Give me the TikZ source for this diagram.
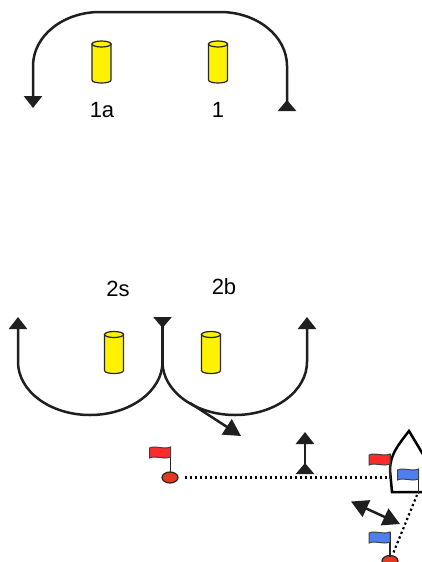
\documentclass[tikz,border=0pt]{standalone}
\usepackage{fontspec}
\setmainfont{Liberation Sans}
\usetikzlibrary{arrows.meta, shapes.geometric}

\definecolor{flagred}{HTML}{FF2A2A}
\definecolor{flagblue}{HTML}{4F7FEF}
\definecolor{buoyred}{HTML}{E03A20}

\begin{document}
\begin{tikzpicture}
        [x=1pt, y=-1pt,
        headtip/.tip={Triangle[length=12pt, width=18pt]},
        tailtip/.tip={Triangle[length=11pt, width=18pt, reversed]},
        crosstip/.tip={Triangle[length=17pt, width=18pt]},
        course/.style={draw=black!88, line width=2.5pt},
        gate/.style={draw=black, line width=2.2pt, dash pattern=on 2.2pt off 2.8pt},
        buoy/.style={ellipse, draw=black!85, fill=buoyred, line width=1.2pt,
           minimum width=16pt, minimum height=11pt, inner sep=0pt},
        tag/.style={font=\fontsize{22}{24}\selectfont, inner sep=0pt},
        can/.pic={
           \draw[black!85, line width=1.2pt, fill=yellow] (-9.5,-18) -- (-9.5,18)
              .. controls (-9.5,22) and (9.5,22) .. (9.5,18) -- (9.5,-18) -- cycle;
           \draw[black!85, line width=1.2pt, fill=yellow] (0,-18) ellipse [x radius=9.5, y radius=3];},
        flag/.pic={
           \draw[black!85, line width=1.2pt] (0,0) -- (0,25);
           \draw[black!75, line width=1pt, fill=#1] (-21,1) .. controls (-14,-2) and (-8,3) .. (0,0)
              -- (0,10) .. controls (-8,13) and (-14,8) .. (-21,11) -- cycle;}]
        \clip (0,0) rectangle (422,562);
        % first pair of marks
        \path (101.5,62) pic (canOneA) {can};
        \path (218,62) pic (canOne) {can};
        \node (tagOneA) at (102,110) [tag] {1a};
        \node (tagOne) at (218,110) [tag] {1};
        \coordinate (oneIn) at (287,111);
        \coordinate (oneOut) at (33,108);
        \draw[course, {tailtip}-{headtip}] (oneIn) -- (287,66) .. controls (287,36) and (257,12) .. (220,12)
           -- (100,12) .. controls (63,12) and (33,36) .. (33,66) -- (oneOut);
        % second pair of marks
        \path (114,352.5) pic (canTwoS) {can};
        \path (211,352.5) pic (canTwoB) {can};
        \node (tagTwoS) at (118,289) [tag] {2s};
        \node (tagTwoB) at (224,287) [tag] {2b};
        \coordinate (twoIn) at (162.5,317);
        \coordinate (fork) at (162.5,362);
        \coordinate (twoLeft) at (18,317);
        \coordinate (twoRight) at (307,317);
        \coordinate (branch) at (190,403);
        \coordinate (branchEnd) at (241,436);
        \draw[course, {tailtip}-] (twoIn) -- (fork);
        \draw[course, -{headtip}] (fork) .. controls (162.5,391) and (130,415) .. (90,415)
           .. controls (50,415) and (18,391) .. (18,362) -- (twoLeft);
        \draw[course, -{headtip}] (fork) .. controls (162.5,391) and (195,415) .. (235,415)
           .. controls (275,415) and (307,391) .. (307,362) -- (twoRight);
        \draw[course, -{crosstip}] (branch) -- (branchEnd);
        % start line
        \node (buoyLeft) at (170,477.5) [buoy] {};
        \node (buoyLow) at (390,561) [buoy] {};
        \coordinate (boatSide) at (387,477.5);
        \coordinate (boatStern) at (417,495);
        \coordinate (upFrom) at (305,474);
        \coordinate (upTo) at (305,432);
        \coordinate (crossFrom) at (351,501.5);
        \coordinate (crossTo) at (400,524);
        \draw[gate, shorten <=6pt] (buoyLeft) -- (boatSide);
        \draw[gate, shorten <=3pt] (buoyLow) -- (boatStern);
        \draw[course, {tailtip}-{headtip}] (upFrom) -- (upTo);
        \draw[course, {crosstip}-{crosstip}] (crossFrom) -- (crossTo);
        \draw[draw=black, line width=2.5pt] (424,456) -- (409,431) .. controls (398,445) and (390,455) .. (390,470)
           -- (392,492) -- (424,492);
        \path (170.5,447) pic {flag=flagred};
        \path (390,454) pic {flag=flagred};
        \path (418.5,469) pic {flag=flagblue};
        \path (390,532) pic {flag=flagblue};
     \end{tikzpicture}
\end{document}
